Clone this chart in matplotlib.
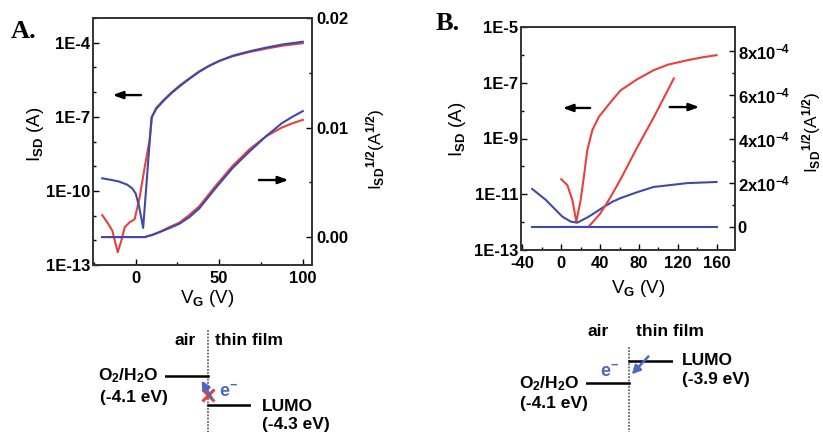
import matplotlib
matplotlib.use("Agg")
import matplotlib.pyplot as plt
import numpy as np

plt.rcParams["font.family"] = ["Liberation Sans", "DejaVu Sans"]
plt.rcParams["font.weight"] = "bold"
plt.rcParams["mathtext.fontset"] = "custom"
plt.rcParams["mathtext.rm"] = "Liberation Sans:bold"
plt.rcParams["mathtext.it"] = "Liberation Sans:bold"
plt.rcParams["mathtext.bf"] = "Liberation Sans:bold"
plt.rcParams["mathtext.default"] = "rm"
plt.rcParams["axes.unicode_minus"] = False

RED = "#e8403c"
BLUE = "#3f4aa8"
ARROW_BLUE = "#4a68c4"

# ---- panel A: transfer curves (log10 of I_SD, and sqrt I_SD) ----
a_vg_log_red = [-20, -17, -14, -12.5, -10.7, -8.5, -6.5, -3.6, -0.6, 2.4, 5.4, 8.3, 9.8,
                12.3, 17, 22, 27, 32, 38, 44, 50, 58, 68, 78, 88, 100]
a_log_red = [-10.98, -11.27, -11.6, -12.0, -12.48, -12.0, -11.47, -11.27, -11.15, -10.26,
             -9.05, -7.96, -7.0, -6.64, -6.3, -5.98, -5.7, -5.45, -5.16, -4.93, -4.74,
             -4.55, -4.38, -4.24, -4.12, -4.02]
a_vg_log_blue = [-20, -15, -10, -5, -2, 0, 2, 4.5, 9.5, 12.3, 17, 22, 27, 32, 38, 44, 50,
                 58, 68, 78, 88, 100]
a_log_blue = [-9.49, -9.55, -9.62, -9.75, -9.9, -10.1, -10.6, -11.5, -7.03, -6.68, -6.33,
              -6.01, -5.73, -5.47, -5.18, -4.94, -4.74, -4.53, -4.35, -4.2, -4.07, -3.96]
a_vg_sqrt = [-20, 5.4, 10, 15, 20, 26, 32, 38, 48, 58, 68, 78, 87.5, 94, 100]
a_sqrt_red = [0, 0, 0.0002, 0.0005, 0.0009, 0.0013, 0.002, 0.0028, 0.0047, 0.0065, 0.008,
              0.0092, 0.0100, 0.0104, 0.0107]
a_sqrt_blue = [0, 0, 0.0002, 0.0005, 0.0008, 0.0012, 0.0018, 0.0026, 0.0045, 0.0063, 0.0078,
               0.0092, 0.0104, 0.0110, 0.0115]

# ---- panel B ----
b_vg_log_red = [0, 6.2, 11.4, 15.5, 20, 23.3, 26.8, 32, 38.8, 52.6, 61.2, 78, 95.2, 110,
                130.3, 145, 160]
b_log_red = [-10.46, -10.67, -11.2, -11.99, -11.2, -10.37, -9.42, -8.7, -8.22, -7.62, -7.27,
             -6.88, -6.55, -6.35, -6.19, -6.09, -6.01]
b_vg_log_blue = [-30, -16, 1, 9.6, 16.5, 28.5, 43.6, 52.6, 61, 78.7, 95, 130, 160]
b_log_blue = [-10.81, -11.2, -11.8, -11.98, -12.02, -11.8, -11.46, -11.27, -11.14, -10.92,
              -10.74, -10.6, -10.56]
b_vg_sqrt_red = [0, 28, 40, 50, 61, 78, 96, 116]
b_sqrt_red = [0, 0, 0.6e-4, 1.3e-4, 2.16e-4, 3.6e-4, 5.05e-4, 6.76e-4]
b_vg_sqrt_blue = [-30, 0, 50, 100, 160]
b_sqrt_blue = [0, 0, 0, 0, 0]

# ---- energy levels (eV) ----
a_o2_level, a_lumo_level = -4.1, -4.3
b_o2_level, b_lumo_level = -4.1, -3.9

W, H = 823, 432
TICK_FS = 12
LABEL_FS = 13.5
RLABEL_FS = 12.5
DIAG_FS = 12.5


def px_rect(x0, x1, y0, y1):
    return [x0 / W, 1 - y1 / H, (x1 - x0) / W, (y1 - y0) / H]


def style_axes(ax):
    ax.tick_params(which="both", direction="in", labelsize=TICK_FS, width=1)
    ax.tick_params(which="major", length=4)
    ax.tick_params(which="minor", length=2)
    for s in ax.spines.values():
        s.set_linewidth(1.2)
        s.set_color("#333333")


def arrow(ax, x0, x1, y):
    ax.annotate("", xy=(x1, y), xytext=(x0, y), xycoords="axes fraction",
                arrowprops=dict(arrowstyle="-|>,head_length=0.6,head_width=0.22",
                                color="black", lw=1.7))


def main():
    fig = plt.figure(figsize=(W / 100, H / 100), dpi=100)

    # ---------------- panel A ----------------
    ax = fig.add_axes(px_rect(93, 312, 18, 265))
    ax.semilogy(a_vg_log_red, 10 ** np.array(a_log_red), color=RED, lw=1.5)
    ax.semilogy(a_vg_log_blue, 10 ** np.array(a_log_blue), color=BLUE, lw=1.5)
    ax.set_xlim(-25.5, 105.5)
    ax.set_ylim(1e-13, 1e-3)
    ax.set_yticks([1e-13, 1e-10, 1e-7, 1e-4])
    ax.set_yticklabels(["1E-13", "1E-10", "1E-7", "1E-4"])
    ax.set_yticks([10.0 ** k for k in range(-13, -2)], minor=True)
    ax.yaxis.set_minor_formatter(plt.NullFormatter())
    ax.set_xticks([0, 50, 100])
    ax.set_xticks([-25, 25, 75], minor=True)
    style_axes(ax)
    ax.tick_params(axis="x", pad=4)
    ax.tick_params(axis="y", pad=2)
    ax.set_ylabel("I$_{SD}$ (A)", fontsize=LABEL_FS)
    ax.yaxis.set_label_coords(-0.215, 0.53)
    ax.set_xlabel("V$_G$ (V)", fontsize=LABEL_FS)
    ax.xaxis.set_label_coords(0.52, -0.092)

    ax2 = ax.twinx()
    ax2.plot(a_vg_sqrt, a_sqrt_red, color=RED, lw=1.5)
    ax2.plot(a_vg_sqrt, a_sqrt_blue, color=BLUE, lw=1.5)
    ax2.set_ylim(-0.00255, 0.0200)
    ax2.set_yticks([0, 0.01, 0.02])
    ax2.set_yticklabels(["0.00", "0.01", "0.02"])
    ax2.set_yticks([0.005, 0.015], minor=True)
    style_axes(ax2)
    ax2.tick_params(axis="y", pad=3)
    ax2.set_ylabel("I$_{SD}$$^{1/2}$(A$^{1/2}$)", fontsize=RLABEL_FS)
    ax2.yaxis.set_label_coords(1.24, 0.47)

    arrow(ax, 0.232, 0.077, 0.688)
    arrow(ax, 0.745, 0.905, 0.344)
    fig.text(11 / W, 1 - 32 / H, "A.", family="Liberation Serif", fontsize=19,
             fontweight="bold", va="center")

    # ---------------- panel B ----------------
    bx = fig.add_axes(px_rect(521, 735, 27, 250))
    bx.semilogy(b_vg_log_red, 10 ** np.array(b_log_red), color=RED, lw=1.5)
    bx.semilogy(b_vg_log_blue, 10 ** np.array(b_log_blue), color=BLUE, lw=1.5)
    bx.set_xlim(-41.5, 179)
    bx.set_ylim(1e-13, 1e-5)
    bx.set_yticks([1e-13, 1e-11, 1e-9, 1e-7, 1e-5])
    bx.set_yticklabels(["1E-13", "1E-11", "1E-9", "1E-7", "1E-5"])
    bx.set_yticks([1e-12, 1e-10, 1e-8, 1e-6], minor=True)
    bx.yaxis.set_minor_formatter(plt.NullFormatter())
    bx.set_xticks([-40, 0, 40, 80, 120, 160])
    bx.set_xticks([-20, 20, 60, 100, 140], minor=True)
    style_axes(bx)
    bx.tick_params(axis="x", pad=4.5)
    bx.tick_params(axis="y", pad=2)
    bx.set_ylabel("I$_{SD}$ (A)", fontsize=LABEL_FS)
    bx.yaxis.set_label_coords(-0.25, 0.54)
    bx.set_xlabel("V$_G$ (V)", fontsize=LABEL_FS)
    bx.xaxis.set_label_coords(0.547, -0.125)

    bx2 = bx.twinx()
    bx2.plot(b_vg_sqrt_red, b_sqrt_red, color=RED, lw=1.5)
    bx2.plot(b_vg_sqrt_blue, b_sqrt_blue, color=BLUE, lw=1.5)
    bx2.set_ylim(-1.05e-4, 9.1e-4)
    bx2.set_yticks([0, 2e-4, 4e-4, 6e-4, 8e-4])
    bx2.set_yticklabels(["0", "2x10$^{-4}$", "4x10$^{-4}$", "6x10$^{-4}$", "8x10$^{-4}$"])
    bx2.set_yticks([1e-4, 3e-4, 5e-4, 7e-4], minor=True)
    style_axes(bx2)
    bx2.tick_params(axis="y", pad=2)
    bx2.set_ylabel("I$_{SD}$$^{1/2}$(A$^{1/2}$)", fontsize=RLABEL_FS)
    bx2.yaxis.set_label_coords(1.305, 0.53)

    arrow(bx, 0.336, 0.182, 0.637)
    arrow(bx, 0.682, 0.846, 0.641)
    fig.text(436 / W, 1 - 23 / H, "B.", family="Liberation Serif", fontsize=19,
             fontweight="bold", va="center")

    # ---------------- energy diagram A ----------------
    tk = dict(fontsize=DIAG_FS, fontweight="bold", clip_on=False)
    da = fig.add_axes(px_rect(165, 251, 330, 432))
    da.set_xlim(-1, 1)
    da.set_ylim(-4.486, -3.783)
    da.axis("off")
    da.plot([0, 0], [-3.783, -4.486], color="#666666", lw=1.3, ls=(0, (1, 0.8)))
    da.plot([-1, 0], [a_o2_level, a_o2_level], color="black", lw=1.8)
    da.plot([0, 1], [a_lumo_level, a_lumo_level], color="black", lw=1.8)
    da.text(-0.535, -3.852, "air", ha="center", va="center", **tk)
    da.text(0.95, -3.852, "thin film", ha="center", va="center", **tk)
    da.text(-1.16, a_o2_level, "O$_2$/H$_2$O", ha="right", va="center", **tk)
    da.text(-2.51, -4.245, "(%.1f eV)" % a_o2_level, ha="left", va="center", **tk)
    da.text(1.256, a_lumo_level - 0.012, "LUMO", ha="left", va="center", **tk)
    da.text(1.256, -4.432, "(%.1f eV)" % a_lumo_level, ha="left", va="center", **tk)
    da.annotate("", xy=(-0.18, -4.115), xytext=(0.12, -4.27),
                arrowprops=dict(arrowstyle="-|>,head_length=0.5,head_width=0.25",
                                color=ARROW_BLUE, lw=1.8))
    da.plot([0], [-4.232], marker="x", ms=8, mew=2.2, color=RED)
    da.text(0.47, -4.215, "e$^{-}$", color=ARROW_BLUE, ha="center", va="center",
            fontsize=13, fontweight="bold")

    # ---------------- energy diagram B ----------------
    db = fig.add_axes(px_rect(585.5, 672.5, 345, 432))
    db.set_xlim(-1, 1)
    db.set_ylim(-4.545, -3.755)
    db.axis("off")
    db.plot([0, 0], [-3.773, -4.545], color="#666666", lw=1.3, ls=(0, (1, 0.8)))
    db.plot([-1, 0], [b_o2_level, b_o2_level], color="black", lw=1.8)
    db.plot([0, 1], [b_lumo_level, b_lumo_level], color="black", lw=1.8)
    db.text(-0.71, -3.636, "air", ha="center", va="center", **tk)
    db.text(0.94, -3.636, "thin film", ha="center", va="center", **tk)
    db.text(1.22, b_lumo_level, "LUMO", ha="left", va="center", **tk)
    db.text(1.22, -4.064, "(%.1f eV)" % b_lumo_level, ha="left", va="center", **tk)
    db.text(-1.13, b_o2_level - 0.009, "O$_2$/H$_2$O", ha="right", va="center", **tk)
    db.text(-2.5, -4.282, "(%.1f eV)" % b_o2_level, ha="left", va="center", **tk)
    db.annotate("", xy=(0.02, -4.04), xytext=(0.49, -3.84),
                arrowprops=dict(arrowstyle="-|>,head_length=0.5,head_width=0.25",
                                color=ARROW_BLUE, lw=1.8))
    db.text(-0.44, -4.0, "e$^{-}$", color=ARROW_BLUE, ha="center", va="center",
            fontsize=13, fontweight="bold")

    fig.savefig("out.png", dpi=100)


if __name__ == "__main__":
    main()
